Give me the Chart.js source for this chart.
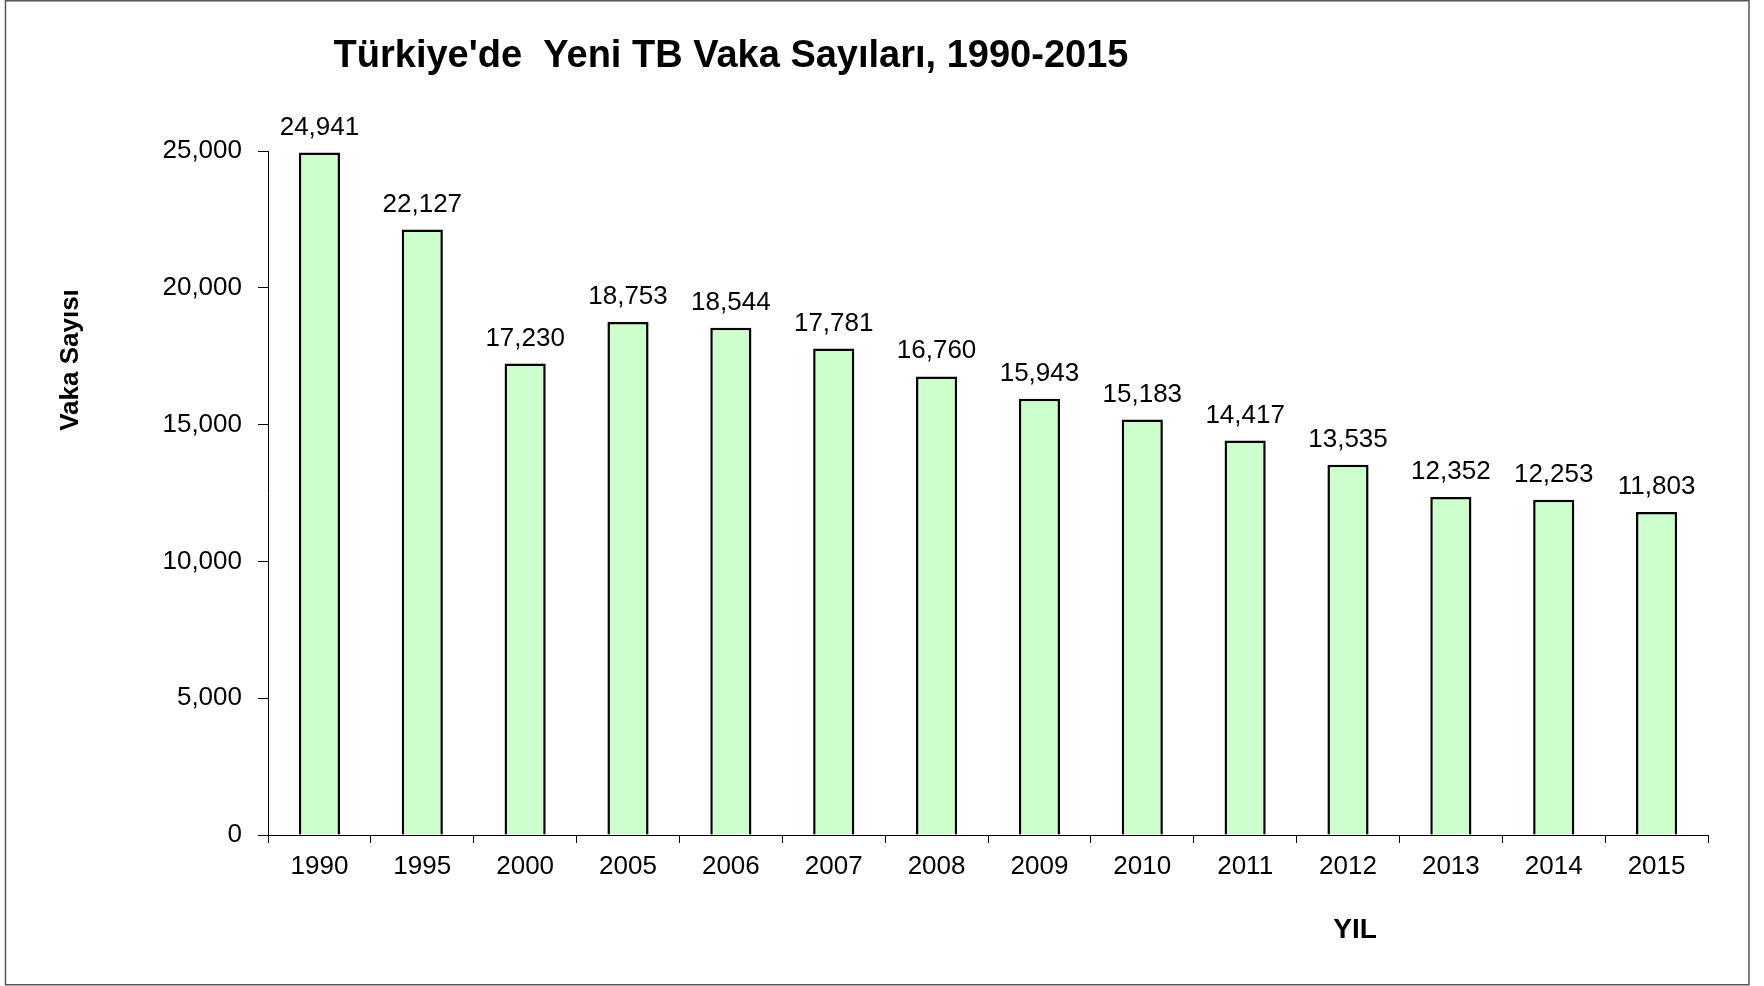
<!DOCTYPE html>
<html>
<head>
<meta charset="utf-8">
<style>
    body { margin: 0; background: white; }
    canvas { display: block; }
</style>
</head>
<body>
    <canvas id="myChart" width="1764" height="986"></canvas>

    <script src="https://cdn.jsdelivr.net/npm/chart.js"></script>

    <script>
        // data
        const years = ['1990', '1995', '2000', '2005', '2006', '2007', '2008', '2009', '2010', '2011', '2012', '2013', '2014', '2015']
        const cases = [24941, 22127, 17230, 18753, 18544, 17781, 16760, 15943, 15183, 14417, 13535, 12352, 12253, 11803]
        const titleText = "Türkiye'de  Yeni TB Vaka Sayıları, 1990-2015"
        const yTitle = 'Vaka Sayısı'
        const xTitle = 'YIL'

        const font = "'Liberation Sans', Arial, sans-serif"

        // white page, frame and the free-placed texts
        const decor = {
            id: 'decor',
            beforeDraw: (chart) => {
                const {ctx, width, height} = chart
                ctx.save()
                ctx.fillStyle = 'white'
                ctx.fillRect(0, 0, width, height)
                ctx.restore()
            },
            afterDraw: (chart) => {
                const ctx = chart.ctx
                ctx.save()
                ctx.strokeStyle = '#555'
                ctx.lineWidth = 1.5
                ctx.strokeRect(5.5, 0.75, 1743.5, 984)

                ctx.fillStyle = 'black'
                ctx.textAlign = 'center'
                ctx.textBaseline = 'alphabetic'
                ctx.font = 'bold 38px ' + font
                ctx.fillText(titleText, 731, 67)

                ctx.font = 'bold 28px ' + font
                ctx.fillText(xTitle, 1355, 938)

                ctx.translate(71, 360)
                ctx.rotate(-Math.PI / 2)
                ctx.textBaseline = 'middle'
                ctx.font = 'bold 26px ' + font
                ctx.fillText(yTitle, 0, 0)
                ctx.restore()
            }
        }

        // value labels above the bars
        const valueLabels = {
            id: 'valueLabels',
            afterDatasetsDraw: (chart) => {
                const ctx = chart.ctx
                const meta = chart.getDatasetMeta(0)
                ctx.save()
                ctx.fillStyle = 'black'
                ctx.font = '26px ' + font
                ctx.textAlign = 'center'
                ctx.textBaseline = 'alphabetic'
                meta.data.forEach((bar, i) => {
                    ctx.fillText(cases[i].toLocaleString('en-US'), bar.x, bar.y - 18)
                })
                ctx.restore()
            }
        }

        var ctx = document.getElementById('myChart')
        var myChart = new Chart(ctx, {
            type: 'bar',
            data: {
                labels: years,
                datasets: [{
                    data: cases,
                    backgroundColor: '#CCFFCC',
                    borderColor: 'black',
                    borderWidth: 2.5,
                    barPercentage: 0.4,
                    categoryPercentage: 1
                }]
            },
            options: {
                responsive: false,
                animation: false,
                layout: { padding: { top: 151, right: 56, left: 0, bottom: 0 } },
                plugins: {
                    legend: { display: false },
                    title: { display: false },
                    tooltip: { enabled: false }
                },
                scales: {
                    x: {
                        afterFit: (scale) => { scale.height = 151 },
                        grid: { drawOnChartArea: false, tickLength: 8, color: 'black', offset: true },
                        border: { color: 'black', width: 1 },
                        ticks: { color: 'black', font: { family: font, size: 26 }, padding: 8, maxRotation: 0 }
                    },
                    y: {
                        min: 0,
                        max: 25000,
                        afterFit: (scale) => { scale.width = 268 },
                        grid: { drawOnChartArea: false, tickLength: 10, color: 'black' },
                        border: { color: 'black', width: 1 },
                        ticks: {
                            stepSize: 5000,
                            color: 'black',
                            padding: 16,
                            font: { family: font, size: 26 },
                            callback: (v) => v.toLocaleString('en-US')
                        }
                    }
                }
            },
            plugins: [decor, valueLabels]
        })
    </script>
</body>
</html>
